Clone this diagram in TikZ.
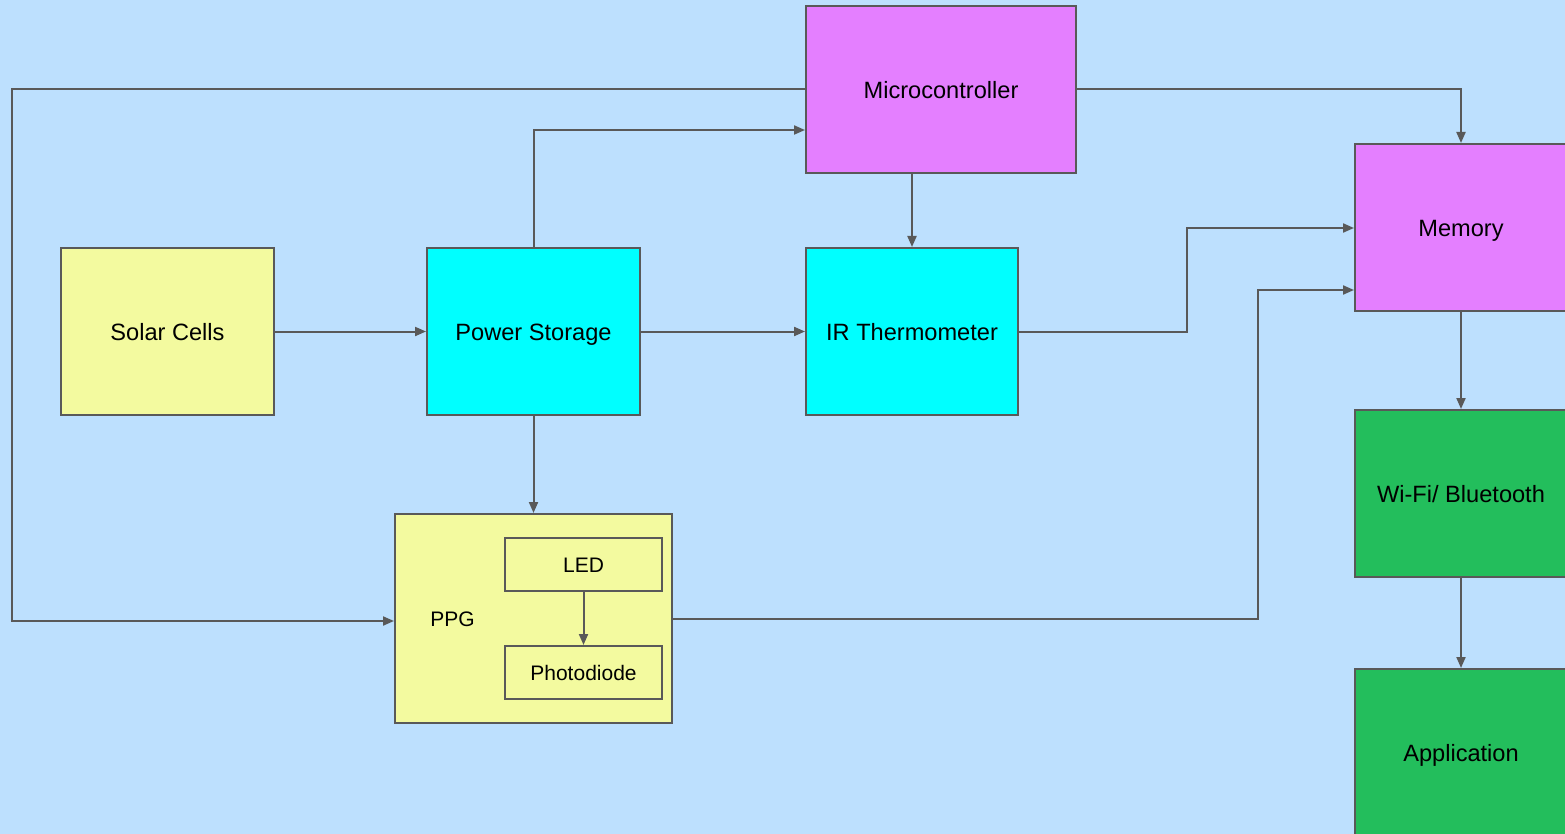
\documentclass[tikz,border=0pt]{standalone}
\usepackage{fontspec}
\setmainfont{Liberation Sans}
\usetikzlibrary{arrows.meta}
\definecolor{bgc}{RGB}{189,224,254}
\definecolor{purp}{RGB}{228,127,255}
\definecolor{cyanc}{RGB}{0,255,255}
\definecolor{yel}{RGB}{243,250,159}
\definecolor{grn}{RGB}{35,190,92}
\definecolor{lgray}{RGB}{89,89,89}
\tikzset{
  box/.style={draw=lgray, line width=2pt, inner sep=0pt, align=center, text height=18pt, text depth=0pt, font=\fontsize{23.6}{28}\selectfont},
  smallbox/.style={draw=lgray, line width=2pt, inner sep=0pt, align=center, fill=yel, text height=16pt, text depth=0pt, font=\fontsize{21}{25}\selectfont},
  arr/.style={draw=lgray, line width=2pt, -{Triangle[length=11pt,width=9pt]}},
  ln/.style={draw=lgray, line width=2pt}
}
\begin{document}
\begin{tikzpicture}[x=1pt,y=-1pt]
\useasboundingbox (0,0) rectangle (1565,834);
\fill[bgc] (0,0) rectangle (1565,834);
\begin{scope}
\clip (0,0) rectangle (1565,834);
\node[box, fill=purp, minimum width=270pt, minimum height=167pt] (mc) at (941,89.5) {Microcontroller};
\node[box, fill=purp, minimum width=212pt, minimum height=167pt] (mem) at (1461,227.5) {Memory};
\node[box, fill=grn, minimum width=212pt, minimum height=167pt] (wifi) at (1461,493.5) {Wi-Fi/ Bluetooth};
\node[box, fill=grn, minimum width=212pt, minimum height=167pt] (app) at (1461,752.5) {Application};
\node[box, fill=yel, minimum width=213pt, minimum height=167pt] (solar) at (167.5,331.5) {Solar Cells};
\node[box, fill=cyanc, minimum width=213pt, minimum height=167pt] (ps) at (533.5,331.5) {Power Storage};
\node[box, fill=cyanc, minimum width=212pt, minimum height=167pt] (ir) at (912,331.5) {IR Thermometer};
\node[smallbox, minimum width=277pt, minimum height=209pt] (ppg) at (533.5,618.5) {};
\node[font=\fontsize{21}{25}\selectfont, inner sep=0pt, text height=16pt, text depth=0pt] (ppgl) at (452.5,618.5) {PPG};
\node[smallbox, minimum width=157pt, minimum height=53pt] (led) at (583.5,564.5) {LED};
\node[smallbox, minimum width=157pt, minimum height=53pt] (pd) at (583.5,672.5) {Photodiode};
\end{scope}
% coordinates
\coordinate (cl) at (12,621);
\coordinate (cp) at (533.5,130);
\coordinate (ci) at (1187,228);
\coordinate (cq) at (1258,290);
% connectors
\draw[arr] (mc.west) -| (cl) -- (cl -| ppg.west);
\draw[arr] (ps.north) |- (cp -| mc.west);
\draw[arr] (mc.east) -| (mem.north);
\draw[arr] (mc.south -| ir.north) -- (ir.north);
\draw[arr] (solar.east) -- (ps.west);
\draw[arr] (ps.east) -- (ir.west);
\draw[arr] (ps.south) -- (ppg.north -| ps.south);
\draw[arr] (ir.east) -| (ci) -- (ci -| mem.west);
\draw[arr] (ppg.east) -| (cq) -- (cq -| mem.west);
\draw[arr] (led.south) -- (pd.north);
\draw[arr] (mem.south) -- (wifi.north);
\draw[arr] (wifi.south) -- (app.north);
\end{tikzpicture}
\end{document}
